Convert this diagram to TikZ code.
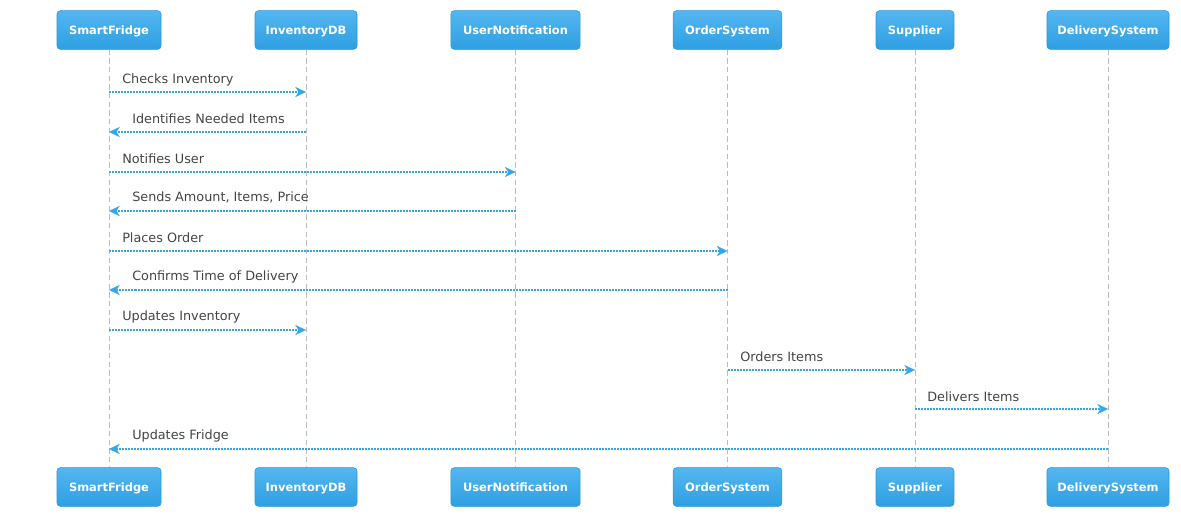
\documentclass[tikz,border=0pt]{standalone}
\usepackage{fontspec}
\setmainfont{DejaVu Sans}
\usepackage{tikz}
\usetikzlibrary{arrows.meta}

\definecolor{boxtop}{HTML}{53B6F0}
\definecolor{boxbot}{HTML}{2E9FE3}
\definecolor{boxedge}{HTML}{2A97D8}
\definecolor{msgblue}{HTML}{35A6E8}
\definecolor{lifegray}{HTML}{BBBBBB}
\definecolor{labgray}{HTML}{444444}

\begin{document}
\begin{tikzpicture}[
        x=0.75pt, y=-0.75pt,
        actor/.style = {
            draw=boxedge,
            rounded corners=2.5pt,
            top color=boxtop,
            bottom color=boxbot,
            text=white,
            font=\bfseries\fontsize{8.6}{10}\selectfont,
            text height=1.6ex,
            text depth=0.3ex,
            minimum height=29pt,
            inner sep=0pt,
            line width=0.4pt
        },
        life/.style = {
            draw=lifegray,
            line width=0.6pt,
            dash pattern=on 4pt off 2.5pt
        },
        msg/.style = {
            draw=msgblue,
            line width=2pt,
            dash pattern=on 1.5pt off 0.75pt,
            -{Stealth[length=8pt, width=7.5pt, inset=2.5pt, line width=0.1pt]}
        },
        lab/.style = {
            text=labgray,
            font=\fontsize{9.6}{11}\selectfont,
            anchor=west,
            inner sep=0pt
        }
            ]
            \useasboundingbox (0,0) rectangle (1181,517);
            
            % actors on top
            \node[actor, minimum width=78pt] (sf) at (109,30) {SmartFridge};
            \node[actor, minimum width=76.5pt] (db) at (306,30) {InventoryDB};
            \node[actor, minimum width=97pt] (un) at (515.5,30) {UserNotification};
            \node[actor, minimum width=81.5pt] (os) at (727.5,30) {OrderSystem};
            \node[actor, minimum width=58.5pt] (su) at (915,30) {Supplier};
            \node[actor, minimum width=91.5pt] (ds) at (1108,30) {DeliverySystem};
            
            % actors below
            \node[actor, minimum width=78pt] (sfb) at (109,487) {SmartFridge};
            \node[actor, minimum width=76.5pt] (dbb) at (306,487) {InventoryDB};
            \node[actor, minimum width=97pt] (unb) at (515.5,487) {UserNotification};
            \node[actor, minimum width=81.5pt] (osb) at (727.5,487) {OrderSystem};
            \node[actor, minimum width=58.5pt] (sub) at (915,487) {Supplier};
            \node[actor, minimum width=91.5pt] (dsb) at (1108,487) {DeliverySystem};
            
            % lifelines
            \draw[life] (sf) -- (sfb);
            \draw[life] (db) -- (dbb);
            \draw[life] (un) -- (unb);
            \draw[life] (os) -- (osb);
            \draw[life] (su) -- (sub);
            \draw[life] (ds) -- (dsb);
            
            % messages
            \draw[msg] (sf |- 0,92) -- (db |- 0,92);
            \node[lab] (m1) at (122,79.5) {Checks Inventory};
            
            \draw[msg] (db |- 0,132) -- (sf |- 0,132);
            \node[lab] (m2) at (132,118.5) {Identifies Needed Items};
            
            \draw[msg] (sf |- 0,172) -- (un |- 0,172);
            \node[lab] (m3) at (122,158.5) {Notifies User};
            
            \draw[msg] (un |- 0,211) -- (sf |- 0,211);
            \node[lab] (m4) at (132,197.5) {Sends Amount, Items, Price};
            
            \draw[msg] (sf |- 0,251) -- (os |- 0,251);
            \node[lab] (m5) at (122,237.5) {Places Order};
            
            \draw[msg] (os |- 0,290) -- (sf |- 0,290);
            \node[lab] (m6) at (132,276.5) {Confirms Time of Delivery};
            
            \draw[msg] (sf |- 0,330) -- (db |- 0,330);
            \node[lab] (m7) at (122,316.5) {Updates Inventory};
            
            \draw[msg] (os |- 0,370) -- (su |- 0,370);
            \node[lab] (m8) at (740,356.5) {Orders Items};
            
            \draw[msg] (su |- 0,409) -- (ds |- 0,409);
            \node[lab] (m9) at (927,396.5) {Delivers Items};
            
            \draw[msg] (ds |- 0,449) -- (sf |- 0,449);
            \node[lab] (m10) at (132,435.5) {Updates Fridge};
            
        \end{tikzpicture}
\end{document}
